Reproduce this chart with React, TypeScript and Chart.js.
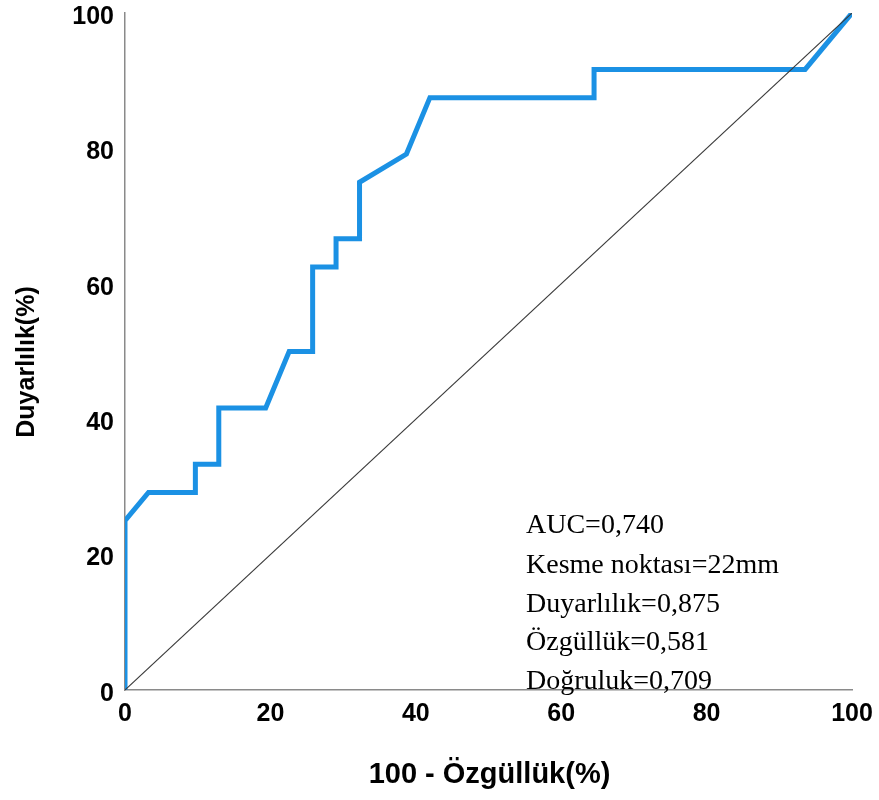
import React, { useEffect, useRef } from "react";
import { Chart, registerables } from "chart.js";

Chart.register(...registerables);

// ROC curve points (100 - specificity %, sensitivity %)
const fpr = [0, 0, 3.23, 9.68, 9.68, 12.9, 12.9, 19.35, 22.58, 25.81, 25.81, 29.03, 29.03, 32.26, 32.26, 38.71, 41.94, 64.52, 64.52, 93.55, 100];
const tpr = [0, 25.0, 29.17, 29.17, 33.33, 33.33, 41.67, 41.67, 50.0, 50.0, 62.5, 62.5, 66.67, 66.67, 75.0, 79.17, 87.5, 87.5, 91.67, 91.67, 100];

// Reference diagonal
const refX = [0, 100];
const refY = [0, 100];

const xTitle = "100 - Özgüllük(%)";
const yTitle = "Duyarlılık(%)";
const annotations = [
  "AUC=0,740",
  "Kesme noktası=22mm",
  "Duyarlılık=0,875",
  "Özgüllük=0,581",
  "Doğruluk=0,709",
];

const SANS = "'Liberation Sans', Arial, sans-serif";
const SERIF = "'Liberation Serif', 'Times New Roman', serif";

export default function App() {
  const ref = useRef<HTMLCanvasElement | null>(null);

  useEffect(() => {
    if (!ref.current) return;

    const textPlugin = {
      id: "texts",
      afterDraw(chart: any) {
        const ctx = chart.ctx;
        const area = chart.chartArea;
        ctx.save();
        ctx.fillStyle = "#000";
        // x title
        ctx.font = `bold 29px ${SANS}`;
        ctx.textAlign = "center";
        ctx.textBaseline = "middle";
        ctx.fillText(xTitle, (area.left + area.right) / 2 + 1, 775);
        // y title
        ctx.save();
        ctx.translate(27, 362);
        ctx.rotate(-Math.PI / 2);
        ctx.font = `bold 25px ${SANS}`;
        ctx.fillText(yTitle, 0, 0);
        ctx.restore();
        // annotations
        ctx.font = `28px ${SERIF}`;
        ctx.textAlign = "left";
        ctx.textBaseline = "alphabetic";
        const baselines = [533, 573, 612, 650, 689];
        annotations.forEach((t, i) => ctx.fillText(t, 526, baselines[i]));
        ctx.restore();
      },
    };

    const noPad = (s: any) => {
      s.paddingLeft = 0;
      s.paddingRight = 0;
      s.paddingTop = 0;
      s.paddingBottom = 0;
    };

    const chart = new Chart(ref.current, {
      type: "scatter",
      data: {
        datasets: [
          {
            label: "Referans",
            data: refX.map((x, i) => ({ x, y: refY[i] })),
            showLine: true,
            borderColor: "#3a3a3a",
            borderWidth: 1.1,
            pointRadius: 0,
          },
          {
            label: "ROC",
            data: fpr.map((x, i) => ({ x, y: tpr[i] })),
            showLine: true,
            borderColor: "#1b91e4",
            borderWidth: 5,
            pointRadius: 0,
            borderJoinStyle: "miter",
            borderCapStyle: "butt",
          },
        ],
      },
      options: {
        animation: false,
        responsive: true,
        maintainAspectRatio: false,
        layout: { padding: { top: 13, right: 27, left: 0, bottom: 0 } },
        plugins: {
          legend: { display: false },
          tooltip: { enabled: false },
        },
        scales: {
          x: {
            type: "linear",
            min: 0,
            max: 100,
            grid: { display: false, drawTicks: false },
            border: { display: true, color: "#8a8a8a", width: 1.5 },
            ticks: {
              stepSize: 20,
              color: "#000",
              padding: 12,
              font: { family: SANS, size: 25, weight: "bold", lineHeight: 1 },
            },
            afterFit: (s: any) => {
              s.height = 110;
              noPad(s);
            },
          },
          y: {
            type: "linear",
            min: 0,
            max: 100,
            grid: { display: false, drawTicks: false },
            border: { display: true, color: "#8a8a8a", width: 1.5 },
            ticks: {
              stepSize: 20,
              color: "#000",
              padding: 11,
              labelOffset: 4,
              font: { family: SANS, size: 25, weight: "bold", lineHeight: 1 },
            },
            afterFit: (s: any) => {
              s.width = 125;
              noPad(s);
            },
          },
        },
      },
      plugins: [textPlugin],
    } as any);

    return () => chart.destroy();
  }, []);

  return (
    <div style={{ position: "absolute", left: 0, top: 0, width: 879, height: 800, background: "#fff" }}>
      <canvas ref={ref} />
    </div>
  );
}
